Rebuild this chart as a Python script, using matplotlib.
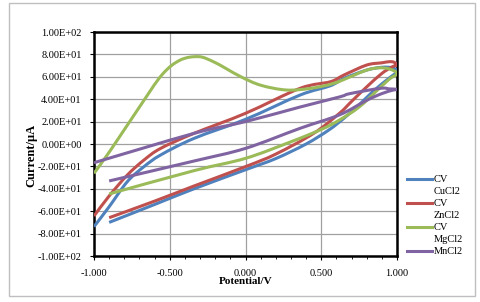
import matplotlib.pyplot as plt
from matplotlib.lines import Line2D
from matplotlib.patches import Rectangle, PathPatch
from matplotlib.path import Path
from matplotlib.ticker import MultipleLocator, FuncFormatter

plt.rcParams['font.family'] = ['Liberation Serif', 'DejaVu Serif']

# CV loops: forward scan then return scan
cu_v = [-0.9, -0.6, -0.34, 0.0, 0.2, 0.4, 0.55, 0.65, 0.75, 0.85, 0.95, 1.0,
        0.97, 0.9, 0.8, 0.65, 0.56, 0.36, 0.0, -0.34, -0.56, -0.67, -0.78, -0.9, -1.0]
cu_i = [-70, -54, -40, -23, -13, 0, 12.5, 23, 35, 48, 59, 64.6,
        68, 68.5, 66, 58.6, 52, 43.7, 22, 5, -9.8, -20.2, -33.6, -56, -73.8]

zn_v = [-0.9, -0.6, -0.34, 0.0, 0.2, 0.45, 0.62, 0.7, 0.8, 0.9, 0.97, 1.0,
        0.98, 0.95, 0.9, 0.8, 0.65, 0.56, 0.36, 0.0, -0.34, -0.56, -0.67, -0.78, -0.9, -1.0]
zn_i = [-65.8, -51, -37.5, -20.2, -9, 9.5, 27.4, 38, 51, 63, 69, 70.5,
        73, 73.5, 72.5, 70.5, 61.6, 55.6, 49.7, 27.4, 9.5, -3.9, -14.3, -27.7, -46.4, -64.3]

mg_v = [-0.9, -0.34, 0.0, 0.3, 0.5, 0.62, 0.75, 0.87, 0.95, 1.0,
        0.95, 0.88, 0.8, 0.7, 0.58, 0.43, 0.27, 0.1, -0.03, -0.13, -0.22, -0.31,
        -0.43, -0.55, -0.7, -0.89, -1.0]
mg_i = [-44.6, -23.8, -12.8, 2, 13, 21.4, 33, 48, 58, 63,
        67, 68, 66, 60.5, 54, 49.7, 48.2, 52.5, 60, 67.5, 74, 78,
        75, 62, 33, -5.4, -26.2]

mn_v = [-0.9, -0.34, 0.0, 0.36, 0.62, 0.8, 0.9, 0.97, 1.0,
        0.95, 0.89, 0.69, 0.62, 0.36, 0.0, -0.34, -1.0]
mn_i = [-33, -15.2, -3.9, 14, 26, 39, 45, 48, 48.8,
        49.2, 49.7, 45, 42, 33, 20, 9.5, -16.7]

series = [
    (cu_v, cu_i, '#4F81BD', ['CV', 'CuCl2']),
    (zn_v, zn_i, '#C0504D', ['CV', 'ZnCl2']),
    (mg_v, mg_i, '#9BBB59', ['CV', 'MgCl2']),
    (mn_v, mn_i, '#8064A2', ['MnCl2']),
]


def smooth_path(xs, ys):
    # Excel-style smoothed line: cubic Bezier segments through every point
    pts = list(zip(xs, ys))
    n = len(pts)
    verts = [pts[0]]
    codes = [Path.MOVETO]
    for k in range(n - 1):
        p0 = pts[max(k - 1, 0)]
        p1 = pts[k]
        p2 = pts[k + 1]
        p3 = pts[min(k + 2, n - 1)]
        c1 = (p1[0] + (p2[0] - p0[0]) / 6, p1[1] + (p2[1] - p0[1]) / 6)
        c2 = (p2[0] - (p3[0] - p1[0]) / 6, p2[1] - (p3[1] - p1[1]) / 6)
        verts += [c1, c2, p2]
        codes += [Path.CURVE4] * 3
    return Path(verts, codes)


fig = plt.figure(figsize=(4.8, 3.02), dpi=100)
ax = fig.add_axes([94 / 480, 1 - 256 / 302, 303 / 480, 224 / 302])

for v, i, c, _ in series:
    ax.add_patch(PathPatch(smooth_path(v, i), fill=False, edgecolor=c, lw=2.2,
                           joinstyle='round', capstyle='butt', zorder=3))

ax.set_xlim(-1, 1)
ax.set_ylim(-100, 100)
ax.xaxis.set_major_locator(MultipleLocator(0.5))
ax.xaxis.set_minor_locator(MultipleLocator(0.1))
ax.yaxis.set_major_locator(MultipleLocator(20))
ax.xaxis.set_major_formatter(FuncFormatter(lambda x, p: f'{x:.3f}'))
ax.yaxis.set_major_formatter(FuncFormatter(lambda y, p: f'{y:.2E}'))
ax.tick_params(axis='both', which='major', labelsize=7.5, direction='out', length=3, width=0.8, pad=6)
ax.tick_params(axis='x', which='minor', direction='out', length=2, width=0.6)
ax.grid(True, which='major', color='#A0A0A0', lw=0.9)
ax.set_axisbelow(True)
for s in ax.spines.values():
    s.set_color('black')
    s.set_linewidth(1.8)

fig.text(246 / 480, 1 - 282 / 302, 'Potential/V', ha='center', va='center',
         fontsize=8, fontweight='bold')
fig.text(31 / 480, 1 - 155 / 302, 'Current/μA', ha='center', va='center',
         rotation=90, fontsize=9, fontweight='bold')

# legend drawn by hand so the swatch lines up with the first text line
y0 = 179
for k, (_, _, c, lab) in enumerate(series):
    y = 1 - (y0 + 24 * k) / 302
    fig.add_artist(Line2D([407 / 480, 432 / 480], [y, y], color=c, lw=2.2))
    for j, t in enumerate(lab):
        fig.text(434 / 480, 1 - (y0 + 24 * k + 12.5 * j) / 302, t,
                 ha='left', va='center', fontsize=7.5)

fig.add_artist(Rectangle((9 / 480, 1 - 296 / 302), 466 / 480, 293 / 302,
                         transform=fig.transFigure, fill=False,
                         edgecolor='#BFBFBF', lw=1))

plt.savefig('out.png', dpi=100)
